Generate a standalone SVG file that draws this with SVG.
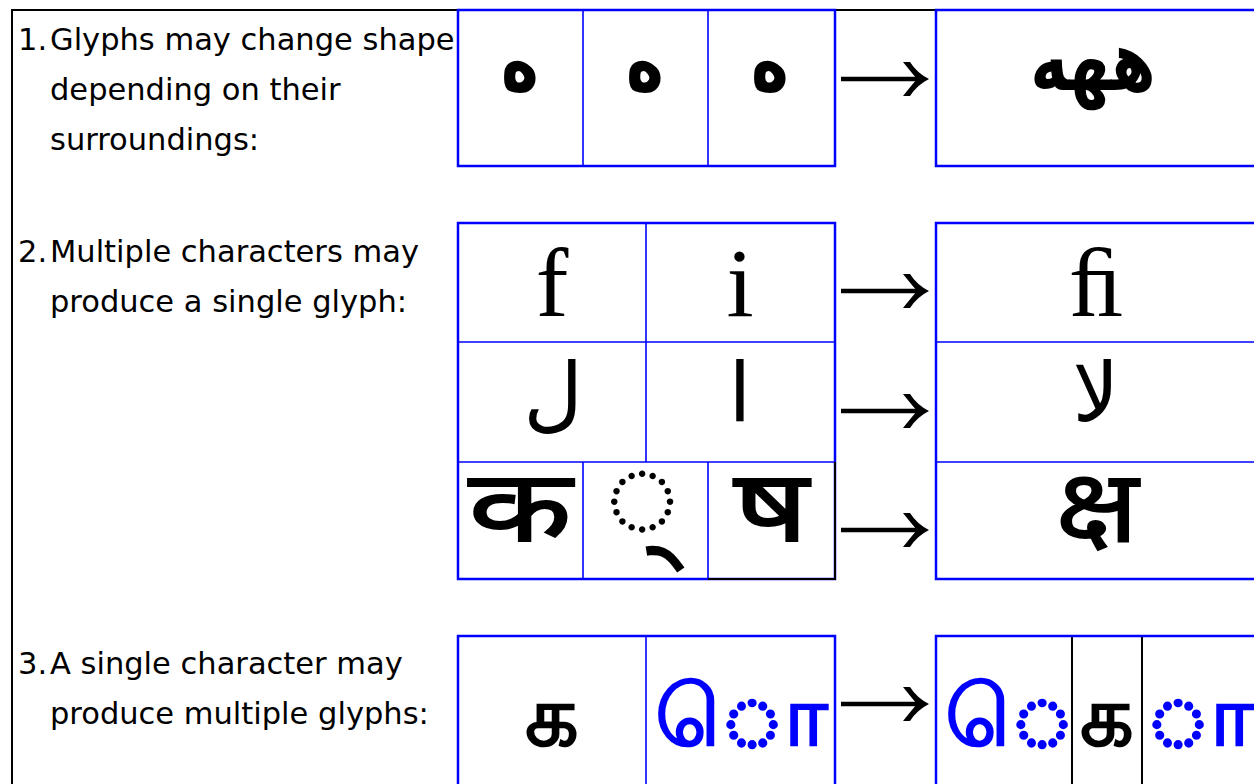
<svg xmlns="http://www.w3.org/2000/svg" width="1254" height="784" viewBox="0 0 1254 784">
<defs>
<style>
.frame{fill:none;stroke:#000;stroke-width:2}
.cell{fill:none;stroke:#00f;stroke-width:2.5}
.div{fill:none;stroke:#00f;stroke-width:1.6}
.bdiv{fill:none;stroke:#000;stroke-width:2}
.lbl{font-family:"DejaVu Sans",sans-serif;font-size:30.5px;fill:#000}
.ar{font-family:"DejaVu Sans",sans-serif;font-weight:bold;font-size:64px;fill:#000;text-anchor:middle}
.ar2{font-family:"DejaVu Sans",sans-serif;font-size:82px;fill:#000;text-anchor:middle}
.lat{font-family:"Liberation Serif",serif;font-size:98px;fill:#000;text-anchor:middle}
.dev{font-family:"Noto Sans","DejaVu Sans",sans-serif;font-size:100px;fill:#000;stroke:#000;stroke-width:1.8;text-anchor:middle}
.dot{font-family:"Noto Sans","DejaVu Sans",sans-serif;font-size:125px;fill:#000;text-anchor:middle}
.tam{font-family:"Noto Sans","DejaVu Sans",sans-serif;font-weight:bold;font-size:84px;fill:#000}
.mid{text-anchor:middle}
.blue{fill:#00f}
.shaft{stroke:#000;stroke-width:4.5;fill:none}
</style>
<marker id="head" markerUnits="userSpaceOnUse" viewBox="-18 -18 28 36" markerWidth="28" markerHeight="36" refX="0" refY="0" orient="auto" overflow="visible">
<path d="M9,0 Q-3,-6 -10,-17 L-17,-17 Q-9,-7 -3,0 Q-9,7 -17,17 L-10,17 Q-3,6 9,0 Z" fill="#000"/>
</marker>
</defs>
<rect width="1254" height="784" fill="#fff"/>
<rect class="frame" x="12" y="10" width="1300" height="820"/>

<g id="labels">
<text class="lbl" x="18" y="50">1.</text>
<text class="lbl" x="50" y="50">Glyphs may change shape</text>
<text class="lbl" x="50" y="100">depending on their</text>
<text class="lbl" x="50" y="150">surroundings:</text>
<text class="lbl" x="18" y="262">2.</text>
<text class="lbl" x="50" y="262">Multiple characters may</text>
<text class="lbl" x="50" y="312">produce a single glyph:</text>
<text class="lbl" x="18" y="674">3.</text>
<text class="lbl" x="50" y="674">A single character may</text>
<text class="lbl" x="50" y="724">produce multiple glyphs:</text>
</g>

<g id="row1-input">
<rect class="cell" x="458" y="10" width="377" height="156"/>
<line class="div" x1="583" y1="10" x2="583" y2="166"/>
<line class="div" x1="708" y1="10" x2="708" y2="166"/>
<text class="ar" transform="translate(520,91) scale(1,1.3)">ه</text>
<text class="ar" transform="translate(645,91) scale(1,1.3)">ه</text>
<text class="ar" transform="translate(770,91) scale(1,1.3)">ه</text>
</g>
<g id="row1-output">
<rect class="cell" x="936" y="10" width="400" height="156"/>
<text class="ar" transform="translate(1093,90) scale(1,1.3)">ههه</text>
</g>

<g id="row2-input">
<rect class="cell" x="458" y="223" width="377" height="356"/>
<line class="div" x1="458" y1="342" x2="835" y2="342"/>
<line class="div" x1="458" y1="462" x2="835" y2="462"/>
<line class="div" x1="646" y1="223" x2="646" y2="462"/>
<line class="div" x1="583" y1="462" x2="583" y2="579"/>
<line class="div" x1="708" y1="462" x2="708" y2="579"/>
<polyline class="bdiv" points="835,462 835,579 708,579"/>
<text class="lat" x="552" y="316">f</text>
<text class="lat" x="740" y="316">i</text>
<text class="ar2" x="553" y="421">ل</text>
<text class="ar2" x="740" y="421">ا</text>
<text class="dev" transform="translate(520,541) scale(1.35,1)">क</text>
<text class="dot" x="642" y="538">◌्</text>
<text class="dev" transform="translate(771,541) scale(1.3,1)">ष</text>
</g>
<g id="row2-output">
<rect class="cell" x="936" y="223" width="400" height="356"/>
<line class="div" x1="936" y1="342" x2="1336" y2="342"/>
<line class="div" x1="936" y1="462" x2="1336" y2="462"/>
<text class="lat" x="1096" y="316">ﬁ</text>
<text class="ar2" x="1096" y="421">لا</text>
<text class="dev" transform="translate(1097,541) scale(1.15,1)">क्ष</text>
</g>

<g id="row3-input">
<rect class="cell" x="458" y="636" width="377" height="200"/>
<line class="div" x1="646" y1="636" x2="646" y2="784"/>
<text class="tam mid" x="552" y="745">க</text>
<text class="tam blue" x="655" y="745">◌ொ</text>
</g>
<g id="row3-output">
<rect class="cell" x="936" y="636" width="400" height="200"/>
<line class="bdiv" x1="1072" y1="637" x2="1072" y2="784"/>
<line class="bdiv" x1="1142" y1="637" x2="1142" y2="784"/>
<text class="tam blue" x="945" y="745">◌ெ</text>
<text class="tam mid" x="1107" y="745">க</text>
<text class="tam blue" x="1146" y="745">◌ா</text>
</g>

<g id="connectors">
<line class="shaft" x1="841" y1="79" x2="920" y2="79" marker-end="url(#head)"/>
<line class="shaft" x1="841" y1="291" x2="920" y2="291" marker-end="url(#head)"/>
<line class="shaft" x1="841" y1="411" x2="920" y2="411" marker-end="url(#head)"/>
<line class="shaft" x1="841" y1="530" x2="920" y2="530" marker-end="url(#head)"/>
<line class="shaft" x1="841" y1="704" x2="920" y2="704" marker-end="url(#head)"/>
</g>
</svg>
